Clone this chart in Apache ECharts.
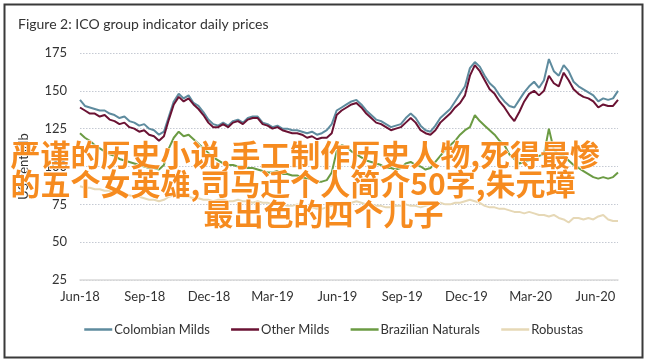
<!DOCTYPE html>
<html>
<head>
<meta charset="utf-8">
<script src="https://cdn.jsdelivr.net/npm/echarts@6/dist/echarts.min.js"></script>
<style>
html,body{margin:0;padding:0;background:#fff;}
#chart{width:646px;height:360px;}
</style>
</head>
<body>
<div id="chart"></div>
<script>
// Weekly samples starting 1 Jun 2018 (one value per week)
var seriesNames = ['Colombian Milds', 'Other Milds', 'Brazilian Naturals', 'Robustas'];
var tickLabels = ['Jun-18', 'Sep-18', 'Dec-18', 'Mar-19', 'Jun-19', 'Sep-19', 'Dec-19', 'Mar-20', 'Jun-20'];
var colombianMilds = [144,140,139,138,137,137,135,134,132,133,130,129,127,128,125,124,121,123,133,143,
  148,145,147,142,140,136,131,128,127,129,127,130,131,129,132,133,133,129,128,126,
  127,125,125,124,124,123,122,123,121,122,124,128,137,139,141,143,144,141,137,134,
  131,130,128,126,127,128,132,135,132,127,124,123,127,132,135,138,143,148,153,165,
  169,166,160,155,152,147,143,140,139,144,149,153,156,152,157,171,163,160,167,163,
  156,153,151,149,147,143,145,144,145,150];
var otherMilds = [139,137,135,135,133,134,131,130,128,129,126,125,123,124,121,120,117,120,131,141,
  146,143,145,141,138,134,129,126,126,128,126,129,130,128,131,132,132,128,127,125,
  126,124,123,122,122,121,119,120,118,119,119,122,134,137,139,141,142,139,135,132,
  129,128,126,124,125,126,129,132,129,124,122,121,124,129,132,135,139,142,147,160,
  167,163,157,151,148,143,139,134,130,136,143,148,150,147,150,160,155,153,162,157,
  151,148,146,145,143,139,141,140,140,144];
var brazilianNaturals = [122,119,117,114,112,110,108,107,105,104,103,102,101,100,99,99,98,101,112,119,
  123,120,121,118,115,112,109,106,104,102,101,101,100,100,99,99,98,97,96,96,
  97,95,95,94,94,93,92,92,90,90,91,96,110,114,113,110,108,106,104,103,
  102,101,99,99,98,99,102,103,101,100,98,99,103,107,111,114,117,121,124,126,
  134,130,127,124,121,117,114,108,105,102,103,104,105,107,108,125,111,108,107,104,
  101,99,97,95,93,92,93,92,93,96];
var robustas = [87,86,86,85,85,84,84,83,82,82,81,80,80,79,78,78,77,78,80,81,
  81,80,80,79,79,78,78,77,78,78,77,77,78,77,77,76,77,76,76,75,
  75,75,74,74,75,74,73,73,72,72,73,74,75,76,76,76,77,76,75,75,
  74,74,73,73,74,74,75,74,74,73,74,75,75,76,75,75,76,76,77,78,
  77,76,74,73,73,72,72,71,70,70,69,70,69,68,68,67,68,66,65,63,
  66,66,65,66,65,67,68,65,64,64];
var colors = ['#5e8b9e', '#6a1233', '#6b9b43', '#e6d8b6'];

var DAY = 86400000;
var startDate = new Date(2018, 5, 1).getTime();
function dayOf(d) { return Math.round((d.getTime() - startDate) / DAY); }
function toPairs(arr) { return arr.map(function (v, i) { return [7 * i, v]; }); }
var tickDays = tickLabels.map(function (_, k) { return dayOf(new Date(2018, 5 + 3 * k, 1)); });
var endDay = dayOf(new Date(2020, 6, 3));

var allData = [colombianMilds, otherMilds, brazilianNaturals, robustas];
var font = 'Lato, "Open Sans", sans-serif';

var chart = echarts.init(document.getElementById('chart'), null, {renderer: 'canvas'});
chart.setOption({
  animation: false,
  backgroundColor: '#fff',
  title: {
    text: 'Figure 2: ICO group indicator daily prices',
    left: 13, top: 12,
    textStyle: {fontSize: 14, fontWeight: 'normal', color: '#333', fontFamily: font}
  },
  grid: {left: 80, right: 28, top: 53, bottom: 80, containLabel: false},
  xAxis: {
    type: 'value',
    min: 0,
    max: endDay,
    axisLine: {show: true, lineStyle: {color: '#d9d9d9', width: 1.5}},
    axisTick: {show: false},
    splitLine: {show: false},
    axisLabel: {
      customValues: tickDays,
      showMinLabel: true, showMaxLabel: true,
      color: '#333', fontSize: 13, fontFamily: font, margin: 10,
      formatter: function (val) {
        var best = 0, bd = Infinity;
        tickDays.forEach(function (t, j) { var d = Math.abs(t - val); if (d < bd) { bd = d; best = j; } });
        return tickLabels[best];
      }
    }
  },
  yAxis: {
    type: 'value', min: 25, max: 175, interval: 25,
    name: 'US cents/lb', nameLocation: 'middle', nameGap: 50, nameRotate: 90,
    nameTextStyle: {color: '#333', fontSize: 13, fontFamily: font},
    axisLine: {show: false}, axisTick: {show: false},
    axisLabel: {color: '#333', fontSize: 13, fontFamily: font, margin: 13},
    splitLine: {lineStyle: {type: [1.5, 1.5], color: '#c5cad3', width: 1.2}}
  },
  legend: {
    data: seriesNames,
    left: 78, top: 318,
    itemWidth: 28, itemHeight: 14, itemGap: 20,
    itemStyle: {opacity: 0},
    lineStyle: {width: 2.5},
    textStyle: {color: '#333', fontSize: 13, fontFamily: font, padding: [0, 0, 0, -3]}
  },
  series: seriesNames.map(function (name, idx) {
    return {
      name: name, type: 'line', symbol: 'none', showSymbol: false,
      data: toPairs(allData[idx]),
      lineStyle: {width: 2, color: colors[idx]},
      itemStyle: {color: colors[idx]},
      z: idx === 3 ? 1 : (idx === 2 ? 2 : (idx === 0 ? 3 : 4))
    };
  }),
  graphic: [
    {type: 'rect', left: 2, top: 2, z: 100, silent: true,
      shape: {width: 638, height: 353},
      style: {fill: 'none', stroke: '#3a3a3a', lineWidth: 2}},
    {type: 'text', left: 10, top: 139, z: 110,
      style: {text: '严谨的历史小说,手工制作历史人物,死得最惨', fill: '#f68b1f', stroke: '#fff', lineWidth: 1,
        font: 'bold 30px "Noto Sans CJK SC"'}},
    {type: 'text', left: 10, top: 168, z: 110,
      style: {text: '的五个女英雄,司马迁个人简介50字,朱元璋', fill: '#f68b1f', stroke: '#fff', lineWidth: 1,
        font: 'bold 30px "Noto Sans CJK SC"'}},
    {type: 'text', left: 203, top: 198, z: 110,
      style: {text: '最出色的四个儿子', fill: '#f68b1f', stroke: '#fff', lineWidth: 1,
        font: 'bold 30px "Noto Sans CJK SC"'}}
  ]
});
</script>
</body>
</html>
